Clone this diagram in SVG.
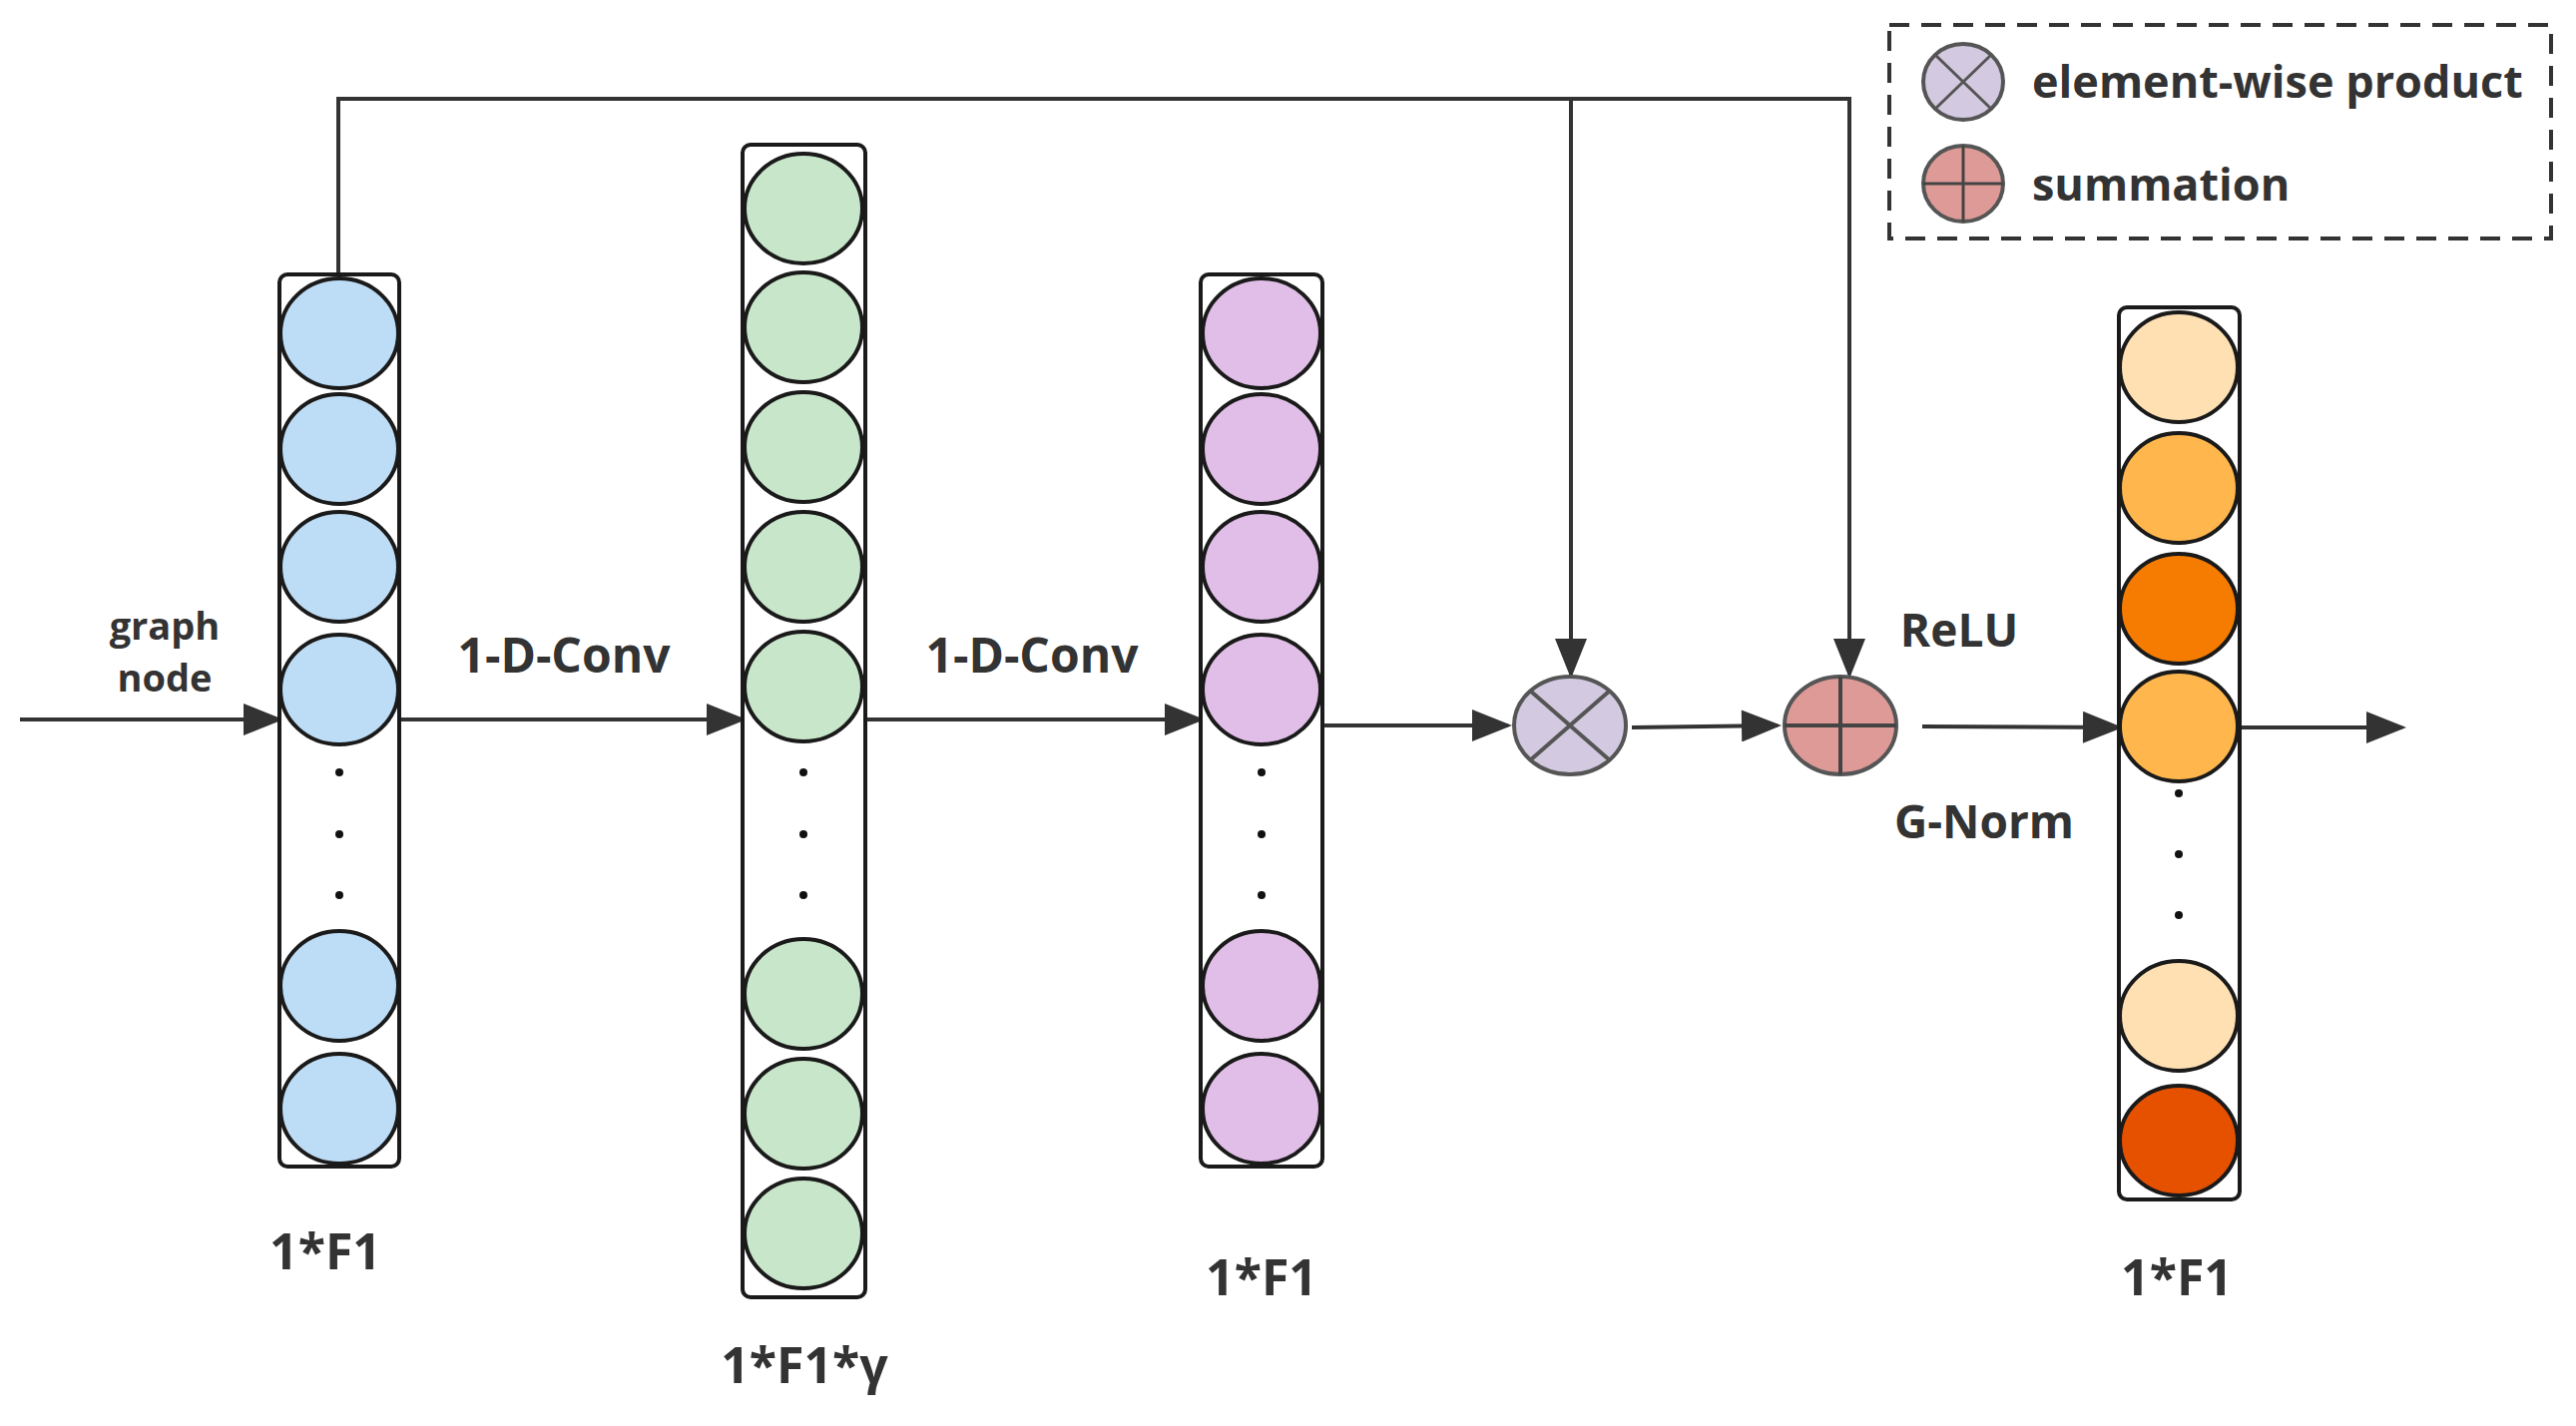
<svg xmlns="http://www.w3.org/2000/svg" width="2581" height="1429" viewBox="0 0 2581 1429">
<style>
.col{fill:#fff;stroke:#1a1a1a;stroke-width:4}
.c{stroke:#1a1a1a;stroke-width:4}
.b{fill:#bddcf5}.g{fill:#c8e6c9}.p{fill:#e1bee7}
.t{font-family:"Open Sans","Liberation Sans",sans-serif;font-weight:bold;fill:#333;text-anchor:middle}
.ln{stroke:#333;stroke-width:4;fill:none}
.dot{fill:#111}
</style>
<defs>
<marker id="ah" viewBox="0 0 10 8" refX="9" refY="4" markerWidth="44" markerHeight="32" orient="auto" markerUnits="userSpaceOnUse"><path d="M0,0L10,4L0,8z" fill="#333"/></marker>
</defs>
<g id="connectors">
<path class="ln" d="M20,721H280" marker-end="url(#ah)"/>
<path class="ln" d="M400,721H744" marker-end="url(#ah)"/>
<path class="ln" d="M867,721H1203" marker-end="url(#ah)"/>
<path class="ln" d="M1325,727H1511" marker-end="url(#ah)"/>
<path class="ln" d="M1635,729L1781,727" marker-end="url(#ah)"/>
<path class="ln" d="M1926,728L2123,729" marker-end="url(#ah)"/>
<path class="ln" d="M2244,729H2407" marker-end="url(#ah)"/>
<path class="ln" d="M339,275V99H1853V676" marker-end="url(#ah)"/>
<path class="ln" d="M1574,99V676" marker-end="url(#ah)"/>
</g>
<g id="input-label">
<text class="t" x="165" y="641" font-size="38">graph</text>
<text class="t" x="165" y="693" font-size="38">node</text>
</g>
<g id="col1">
<rect class="col" x="280" y="275" width="120" height="894" rx="8"/>
<ellipse class="c b" cx="340" cy="334" rx="59" ry="55"/>
<ellipse class="c b" cx="340" cy="450" rx="59" ry="55"/>
<ellipse class="c b" cx="340" cy="568" rx="59" ry="55"/>
<ellipse class="c b" cx="340" cy="691" rx="59" ry="55"/>
<circle class="dot" cx="340" cy="774" r="4"/><circle class="dot" cx="340" cy="836" r="4"/><circle class="dot" cx="340" cy="897" r="4"/>
<ellipse class="c b" cx="340" cy="988" rx="59" ry="55"/>
<ellipse class="c b" cx="340" cy="1111" rx="59" ry="55"/>
<text class="t" x="326" y="1272" font-size="50">1*F1</text>
</g>
<g id="col2">
<rect class="col" x="744" y="145" width="123" height="1155" rx="8"/>
<ellipse class="c g" cx="805" cy="209" rx="59" ry="55"/>
<ellipse class="c g" cx="805" cy="328" rx="59" ry="55"/>
<ellipse class="c g" cx="805" cy="448" rx="59" ry="55"/>
<ellipse class="c g" cx="805" cy="568" rx="59" ry="55"/>
<ellipse class="c g" cx="805" cy="688" rx="59" ry="55"/>
<circle class="dot" cx="805" cy="774" r="4"/><circle class="dot" cx="805" cy="836" r="4"/><circle class="dot" cx="805" cy="897" r="4"/>
<ellipse class="c g" cx="805" cy="996" rx="59" ry="55"/>
<ellipse class="c g" cx="805" cy="1116" rx="59" ry="55"/>
<ellipse class="c g" cx="805" cy="1236" rx="59" ry="55"/>
<text class="t" x="806" y="1386" font-size="50">1*F1*γ</text>
</g>
<g id="conv-labels">
<text class="t" x="565" y="674" font-size="48">1-D-Conv</text>
<text class="t" x="1034" y="674" font-size="48">1-D-Conv</text>
</g>
<g id="col3">
<rect class="col" x="1203" y="275" width="122" height="894" rx="8"/>
<ellipse class="c p" cx="1264" cy="334" rx="59" ry="55"/>
<ellipse class="c p" cx="1264" cy="450" rx="59" ry="55"/>
<ellipse class="c p" cx="1264" cy="568" rx="59" ry="55"/>
<ellipse class="c p" cx="1264" cy="691" rx="59" ry="55"/>
<circle class="dot" cx="1264" cy="774" r="4"/><circle class="dot" cx="1264" cy="836" r="4"/><circle class="dot" cx="1264" cy="897" r="4"/>
<ellipse class="c p" cx="1264" cy="988" rx="59" ry="55"/>
<ellipse class="c p" cx="1264" cy="1111" rx="59" ry="55"/>
<text class="t" x="1264" y="1298" font-size="50">1*F1</text>
</g>
<g id="product">
<ellipse cx="1573" cy="727" rx="56" ry="49" fill="#d3c9e0" stroke="#555" stroke-width="4"/>
<path d="M1533,692L1613,762M1613,692L1533,762" stroke="#555" stroke-width="4"/>
</g>
<g id="sum">
<ellipse cx="1844" cy="727" rx="56" ry="49" fill="#de9a96" stroke="#555" stroke-width="4"/>
<path d="M1788,727H1900M1844,678V776" stroke="#444" stroke-width="4"/>
</g>
<g id="act-labels">
<text class="t" x="1963" y="648" font-size="46">ReLU</text>
<text class="t" x="1988" y="840" font-size="46">G-Norm</text>
</g>
<g id="col4">
<rect class="col" x="2123" y="308" width="121" height="894" rx="8"/>
<ellipse class="c" fill="#ffe0b2" cx="2183" cy="368" rx="59" ry="55"/>
<ellipse class="c" fill="#ffb74d" cx="2183" cy="489" rx="59" ry="55"/>
<ellipse class="c" fill="#f57c00" cx="2183" cy="610" rx="59" ry="55"/>
<ellipse class="c" fill="#ffb74d" cx="2183" cy="728" rx="59" ry="55"/>
<circle class="dot" cx="2183" cy="795" r="4"/><circle class="dot" cx="2183" cy="856" r="4"/><circle class="dot" cx="2183" cy="917" r="4"/>
<ellipse class="c" fill="#ffe0b2" cx="2183" cy="1018" rx="59" ry="55"/>
<ellipse class="c" fill="#e65100" cx="2183" cy="1143" rx="59" ry="55"/>
<text class="t" x="2181" y="1298" font-size="50">1*F1</text>
</g>
<g id="legend">
<rect x="1893" y="25" width="663" height="214" fill="none" stroke="#333" stroke-width="4" stroke-dasharray="20,12"/>
<ellipse cx="1967" cy="82" rx="40" ry="38" fill="#d3c9e0" stroke="#555" stroke-width="4"/>
<path d="M1939,55L1995,109M1995,55L1939,109" stroke="#555" stroke-width="3"/>
<ellipse cx="1967" cy="184" rx="40" ry="38" fill="#de9a96" stroke="#555" stroke-width="4"/>
<path d="M1927,184H2007M1967,146V222" stroke="#444" stroke-width="3"/>
<text class="t" x="2036" y="98" font-size="45" style="text-anchor:start">element-wise product</text>
<text class="t" x="2036" y="201" font-size="45" style="text-anchor:start">summation</text>
</g>
</svg>
